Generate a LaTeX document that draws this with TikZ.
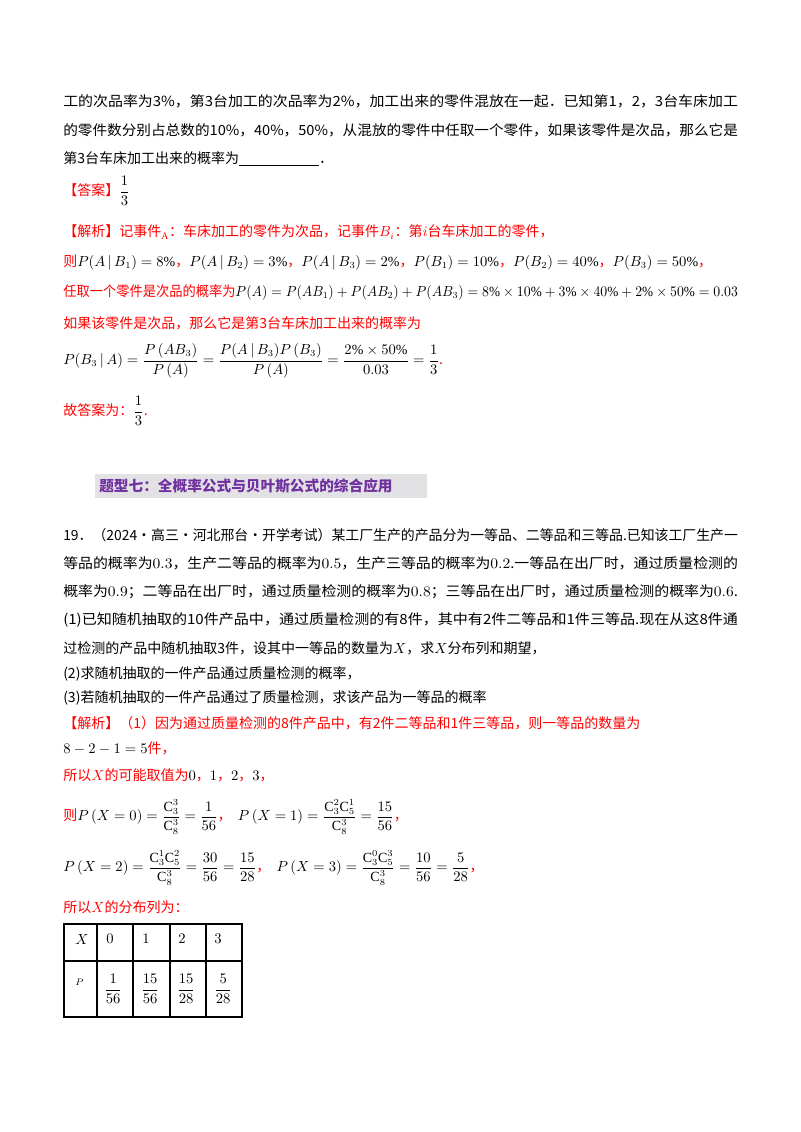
\documentclass[tikz,border=0pt]{standalone}
\usepackage{fontspec}
\usepackage{amsmath}
\usepackage{graphicx}
\newfontfamily\cjk{Noto Sans CJK SC}
\setmainfont{Liberation Serif}
\definecolor{ansred}{HTML}{FF0000}
\definecolor{hdpurple}{HTML}{7030A0}
\definecolor{hdgray}{HTML}{E2E2E4}
\newcommand{\jline}[2]{\node[anchor=west,inner sep=0pt] at (63,#1) {\resizebox{506pt}{\height}{#2}};}
\newcommand{\lline}[2]{\node[anchor=west,inner sep=0pt] at (63,#1) {#2};}
\begin{document}
\begin{tikzpicture}[x=0.75pt,y=-0.75pt,every node/.style={font=\cjk\fontsize{10.5}{13}\selectfont}]
\useasboundingbox (0,0) rectangle (800,1132);
\jline{101}{工的次品率为3\%，第3台加工的次品率为2\%，加工出来的零件混放在一起．已知第1，2，3台车床加工}
\jline{130}{的零件数分别占总数的10\%，40\%，50\%，从混放的零件中任取一个零件，如果该零件是次品，那么它是}
\lline{159}{第3台车床加工出来的概率为\rule[-1.5pt]{60pt}{0.6pt}．}
\lline{191}{\textcolor{ansred}{【答案】}$\dfrac{1}{3}$}
\lline{232}{\textcolor{ansred}{【解析】记事件$_{\mathrm A}$：车床加工的零件为次品，记事件$B_i$：第$i$台车床加工的零件，}}
\lline{262}{\textcolor{ansred}{则}$P(A\,|\,B_1)=8\%$\textcolor{ansred}{，}$P(A\,|\,B_2)=3\%$\textcolor{ansred}{，}$P(A\,|\,B_3)=2\%$\textcolor{ansred}{，}$P(B_1)=10\%$\textcolor{ansred}{，}$P(B_2)=40\%$\textcolor{ansred}{，}$P(B_3)=50\%$\textcolor{ansred}{，}}
\jline{292}{\textcolor{ansred}{任取一个零件是次品的概率为}$P(A)=P(AB_1)+P(AB_2)+P(AB_3)=8\%\times10\%+3\%\times40\%+2\%\times50\%=0.03$}
\lline{323}{\textcolor{ansred}{如果该零件是次品，那么它是第3台车床加工出来的概率为}}
\lline{361}{$P(B_3\,|\,A)=\dfrac{P\left(AB_3\right)}{P\left(A\right)}=\dfrac{P(A\,|\,B_3)P\left(B_3\right)}{P\left(A\right)}=\dfrac{2\%\times50\%}{0.03}=\dfrac{1}{3}$\textcolor{ansred}{.}}
\lline{411}{\textcolor{ansred}{故答案为：}$\dfrac{1}{3}$\textcolor{ansred}{.}}
\node[anchor=west,inner sep=0pt,fill=hdgray,minimum height=18pt,text width=249pt,font=\cjk\bfseries\fontsize{11}{13}\selectfont,text=hdpurple] (hd) at (95,486) {\hspace{3pt}题型七：全概率公式与贝叶斯公式的综合应用};
\jline{535}{19．（2024·高三·河北邢台·开学考试）某工厂生产的产品分为一等品、二等品和三等品.已知该工厂生产一}
\jline{563}{等品的概率为$0.3$，生产二等品的概率为$0.5$，生产三等品的概率为$0.2$.一等品在出厂时，通过质量检测的}
\jline{592}{概率为$0.9$；二等品在出厂时，通过质量检测的概率为$0.8$；三等品在出厂时，通过质量检测的概率为$0.6$.}
\jline{620}{(1)已知随机抽取的10件产品中，通过质量检测的有8件，其中有2件二等品和1件三等品.现在从这8件通}
\lline{648}{过检测的产品中随机抽取3件，设其中一等品的数量为$X$，求$X$分布列和期望，}
\lline{674}{(2)求随机抽取的一件产品通过质量检测的概率，}
\lline{698}{(3)若随机抽取的一件产品通过了质量检测，求该产品为一等品的概率}
\lline{723}{\textcolor{ansred}{【解析】（1）因为通过质量检测的8件产品中，有2件二等品和1件三等品，则一等品的数量为}}
\lline{748}{$8-2-1=5$\textcolor{ansred}{件，}}
\lline{775}{\textcolor{ansred}{所以$X$的可能取值为}$0$\textcolor{ansred}{，}$1$\textcolor{ansred}{，}$2$\textcolor{ansred}{，}$3$\textcolor{ansred}{，}}
\lline{817}{\textcolor{ansred}{则}$P\left(X=0\right)=\dfrac{\mathrm{C}_3^3}{\mathrm{C}_8^3}=\dfrac{1}{56}$\textcolor{ansred}{，}\ \ $P\left(X=1\right)=\dfrac{\mathrm{C}_3^2\mathrm{C}_5^1}{\mathrm{C}_8^3}=\dfrac{15}{56}$\textcolor{ansred}{，}}
\lline{868}{$P\left(X=2\right)=\dfrac{\mathrm{C}_3^1\mathrm{C}_5^2}{\mathrm{C}_8^3}=\dfrac{30}{56}=\dfrac{15}{28}$\textcolor{ansred}{，}\ \ $P\left(X=3\right)=\dfrac{\mathrm{C}_3^0\mathrm{C}_5^3}{\mathrm{C}_8^3}=\dfrac{10}{56}=\dfrac{5}{28}$\textcolor{ansred}{，}}
\lline{907}{\textcolor{ansred}{所以$X$的分布列为：}}
% table
\draw[line width=0.8pt] (64,924) rectangle (242,1017);
\draw[line width=0.8pt] (64,961) -- (242,961);
\foreach \c in {97,133,170,206} \draw[line width=0.8pt] (\c,924) -- (\c,1017);
\node[anchor=west,inner sep=0pt] (t1) at (75,939) {$X$};
\node[anchor=west,inner sep=0pt] (t2) at (106,939) {$0$};
\node[anchor=west,inner sep=0pt] (t3) at (142,939) {$1$};
\node[anchor=west,inner sep=0pt] (t4) at (178,939) {$2$};
\node[anchor=west,inner sep=0pt] (t5) at (214,939) {$3$};
\node[anchor=west,inner sep=0pt] (u1) at (75,982) {$\scriptstyle P$};
\node[anchor=west,inner sep=0pt] (u2) at (104,989) {$\dfrac{1}{56}$};
\node[anchor=west,inner sep=0pt] (u3) at (141,989) {$\dfrac{15}{56}$};
\node[anchor=west,inner sep=0pt] (u4) at (177,989) {$\dfrac{15}{28}$};
\node[anchor=west,inner sep=0pt] (u5) at (214,989) {$\dfrac{5}{28}$};
\end{tikzpicture}
\end{document}
